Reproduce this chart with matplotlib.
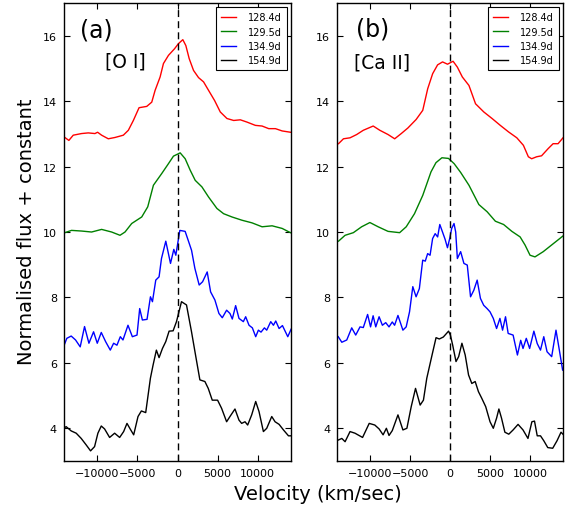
import matplotlib
matplotlib.use("Agg")
import matplotlib.pyplot as plt

plt.rcParams['font.family'] = ['DejaVu Sans']

labels = ["128.4d", "129.5d", "134.9d", "154.9d"]
colors = ["#ff0000", "#008000", "#0000ff", "#000000"]

# ---- Panel (a) [O I] ----
oi_red_v = [-14045,-13545,-13000,-11962,-11130,-10295,-9962,-9462,-8630,-7795,
            -6755,-6130,-5505,-4795,-3837,-3212,-2795,-2170,-1755,-1130,
            -380,120,662,1037,1455,1995,2620,3245,3870,4620,
            5330,6162,7000,7830,8665,9705,10540,11370,12205,13040,
            14080]
oi_red_f = [12.89,12.80,12.96,13.01,13.03,13.01,13.05,12.96,12.85,12.89,
            12.96,13.11,13.41,13.80,13.84,13.97,14.33,14.74,15.15,15.40,
            15.60,15.76,15.88,15.70,15.30,14.94,14.72,14.59,14.33,14.02,
            13.67,13.47,13.41,13.43,13.36,13.26,13.24,13.16,13.16,13.09,
            13.05]

oi_green_v = [-14045,-13213,-11962,-10712,-9462,-8212,-7170,-6545,-5712,-4462,
              -3712,-3005,-1962,-1130,-505,330,955,1580,2205,3040,
              3870,4912,5745,6790,8040,9290,10540,11790,13040,14080]
oi_green_f = [9.98,10.05,10.03,10.00,10.08,10.00,9.90,10.00,10.26,10.46,
              10.77,11.43,11.79,12.09,12.32,12.42,12.24,11.89,11.58,11.38,
              11.07,10.72,10.56,10.46,10.36,10.28,10.16,10.19,10.11,9.98]

oi_blue_v = [-14212,-13800,-13255,-12710,-12130,-11590,-11045,-10465,-10005,-9505,
             -8965,-8380,-7965,-7550,-7130,-6800,-6175,-5630,-5050,-4715,
             -4380,-3800,-3375,-3125,-2712,-2300,-2000,-1462,-875,-462,
             -212,287,950,1325,1750,2162,2700,3125,3700,4125,
             4662,5162,5580,6120,6537,6830,7245,7662,8205,8495,
             8912,9330,9745,10080,10410,10830,11120,11620,11955,12245,
             12662,13080,13745,14160]
oi_blue_f = [6.49,6.75,6.82,6.70,6.49,7.11,6.60,6.95,6.60,6.93,
             6.65,6.39,6.60,6.54,6.80,6.70,7.15,6.80,6.85,7.66,
             7.31,7.33,8.02,7.87,8.53,8.63,9.19,9.72,9.04,9.47,
             9.29,10.05,10.02,9.75,9.44,8.89,8.38,8.48,8.78,8.17,
             7.92,7.51,7.38,7.61,7.51,7.34,7.75,7.36,7.26,7.41,
             7.15,7.07,6.80,7.00,6.94,7.07,7.00,7.26,7.15,7.28,
             7.05,7.14,6.80,7.03]

oi_black_v = [-14212,-13880,-13255,-12630,-12005,-11380,-10840,-10340,-9925,-9505,
              -9090,-8465,-7840,-7215,-6715,-6300,-5880,-5465,-4925,-4505,
              -3965,-3380,-3050,-2635,-2300,-1880,-1465,-1050,-550,-130,
              495,1120,1745,2245,2787,3412,3830,4330,4995,5495,
              6120,6537,7162,7662,7995,8412,8745,9245,9745,10160,
              10705,11120,11745,12160,12662,13205,13830,14245]
oi_black_f = [4.00,4.05,3.92,3.85,3.69,3.49,3.31,3.44,3.85,4.07,
              3.98,3.72,3.85,3.72,3.90,4.15,3.97,3.80,4.36,4.53,
              4.48,5.53,5.93,6.39,6.16,6.44,6.65,6.97,6.98,7.26,
              7.87,7.77,6.95,6.24,5.48,5.43,5.22,4.86,4.86,4.61,
              4.20,4.36,4.59,4.25,4.15,4.20,4.10,4.41,4.82,4.51,
              3.90,4.00,4.36,4.20,4.12,3.95,3.77,3.77]

# ---- Panel (b) [Ca II] ----
ca_red_v = [-13965,-13345,-12520,-11690,-10860,-9620,-8790,-7760,-6930,-6105,
            -5277,-4243,-3415,-2795,-2175,-1555,-935,-315,385,920,
            1540,2370,3195,4230,5265,6295,7330,8365,9190,9810,
            10225,10845,11465,12290,12910,13530,14150]
ca_red_f = [12.70,12.85,12.88,12.98,13.11,13.24,13.11,12.98,12.85,13.01,
            13.18,13.44,13.72,14.38,14.84,15.11,15.20,15.13,15.22,15.04,
            14.74,14.48,13.92,13.67,13.47,13.26,13.06,12.88,12.65,12.30,
            12.24,12.30,12.33,12.55,12.70,12.70,12.88]

ca_green_v = [-13965,-13140,-12105,-11070,-10035,-9000,-7760,-6310,-5485,-4450,
              -3415,-2380,-1760,-1015,-190,515,1335,2370,3610,4645,
              5680,6710,7745,8780,9400,10020,10640,11675,12705,14150]
ca_green_f = [9.72,9.90,9.98,10.16,10.29,10.16,10.02,9.98,10.16,10.56,
              11.12,11.84,12.12,12.27,12.25,12.09,11.82,11.43,10.84,10.62,
              10.33,10.23,10.02,9.85,9.60,9.29,9.24,9.40,9.60,9.88]

ca_blue_v = [-14000,-13550,-12930,-12310,-11810,-11270,-10860,-10320,-9950,-9630,
             -9300,-8880,-8470,-8050,-7640,-7230,-6940,-6520,-5900,-5490,
             -5070,-4660,-4250,-3840,-3420,-3100,-2800,-2500,-2180,-1860,
             -1550,-1280,-940,-620,-320,-40,210,500,710,920,
             1330,1740,2160,2570,2980,3400,3810,4220,4640,5010,
             5420,5830,6250,6580,6950,7280,7900,8440,8850,9140,
             9550,9970,10500,10920,11330,11740,12150,12730,13270,13690,
             14100]
ca_blue_f = [6.80,6.63,6.70,7.07,6.85,7.10,7.08,7.48,7.10,7.44,
             7.10,7.41,7.15,7.23,7.10,7.25,7.15,7.45,7.00,7.10,
             7.56,8.33,8.02,8.27,9.14,9.11,9.34,9.29,9.80,9.95,
             9.85,10.23,10.00,9.78,9.52,9.80,10.11,10.26,10.00,9.19,
             9.40,9.04,8.99,8.02,8.22,8.53,7.97,7.76,7.66,7.56,
             7.36,7.05,7.36,7.00,7.41,6.90,6.85,6.24,6.69,6.44,
             6.75,6.44,6.97,6.59,6.39,6.80,6.34,6.19,7.00,6.39,
             5.78]

ca_black_v = [-14000,-13550,-13140,-12520,-11900,-10950,-10120,-9420,-8880,-8380,
              -7970,-7640,-7230,-6520,-5900,-5400,-4860,-4320,-3740,-3330,
              -2910,-2250,-1750,-1340,-840,-180,45,335,750,1080,
              1490,1900,2320,2730,3150,3560,3970,4470,5010,5420,
              5830,6120,6450,6870,7360,7900,8520,9140,9760,10250,
              10580,10920,11330,11740,12240,12860,13400,13900,14220]
ca_black_f = [3.64,3.69,3.59,3.90,3.85,3.72,4.15,4.10,3.98,3.80,
              4.00,3.78,3.93,4.41,3.95,4.00,4.66,5.22,4.71,4.86,
              5.53,6.24,6.77,6.73,6.79,6.97,6.85,6.54,6.04,6.19,
              6.60,6.24,5.63,5.37,5.43,5.12,4.92,4.66,4.20,4.00,
              4.31,4.59,4.31,3.88,3.82,3.95,4.12,3.95,3.69,4.20,
              4.22,3.77,3.77,3.62,3.41,3.39,3.62,3.88,3.80]

panels = [
    ("(a)", "[O I]", [(oi_red_v, oi_red_f), (oi_green_v, oi_green_f), (oi_blue_v, oi_blue_f), (oi_black_v, oi_black_f)]),
    ("(b)", "[Ca II]", [(ca_red_v, ca_red_f), (ca_green_v, ca_green_f), (ca_blue_v, ca_blue_f), (ca_black_v, ca_black_f)]),
]
xticks = [-10000, -5000, 0, 5000, 10000]
yticks = [4, 6, 8, 10, 12, 14, 16]

fig = plt.figure(figsize=(5.72, 5.10), dpi=100)
positions = [[0.1119, 0.0941, 0.3969, 0.898], [0.5892, 0.0941, 0.3951, 0.898]]
letter_pos = [(0.141, 0.943), (0.158, 0.945)]
ion_pos = [(0.269, 0.873), (0.199, 0.871)]

for i, (letter, ion, series) in enumerate(panels):
    ax = fig.add_axes(positions[i])
    for (v, f), c, lab in zip(series, colors, labels):
        ax.plot(v, f, color=c, lw=1.0, label=lab)
    ax.axvline(0, color='k', ls='--', lw=1.0, dashes=(5, 3))
    ax.set_xlim(-14150, 14150)
    ax.set_ylim(3, 17)
    ax.set_xticks(xticks)
    ax.set_yticks(yticks)
    ax.tick_params(direction='in', top=True, right=True, length=4.5, width=0.8, labelsize=8, pad=5)
    for s in ax.spines.values():
        s.set_linewidth(1.0)
    ax.text(letter_pos[i][0], letter_pos[i][1], letter, transform=ax.transAxes,
            fontsize=17, ha='center', va='center')
    ax.text(ion_pos[i][0], ion_pos[i][1], ion, transform=ax.transAxes,
            fontsize=13.5, ha='center', va='center')
    leg = ax.legend(loc='upper right', fontsize=7, fancybox=False, framealpha=1,
                    edgecolor='k', handlelength=1.6, handletextpad=1.2,
                    borderaxespad=0.45, labelspacing=0.45, borderpad=0.5)
    leg.get_frame().set_linewidth(0.8)

fig.text(0.047, 0.545, "Normalised flux + constant", rotation=90, fontsize=14,
         ha='center', va='center')
fig.text(0.556, 0.030, "Velocity (km/sec)", fontsize=14, ha='center', va='center')

fig.savefig("out.png", dpi=100)
